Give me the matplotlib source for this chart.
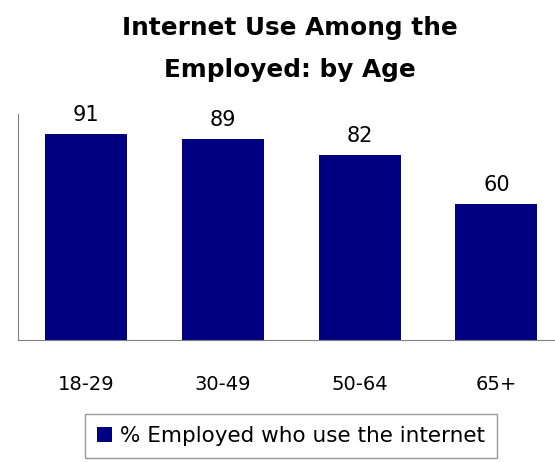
import matplotlib
matplotlib.use("Agg")
import matplotlib.pyplot as plt

categories = ["18-29", "30-49", "50-64", "65+"]
values = [91, 89, 82, 60]
series_name = "% Employed who use the internet"
title = "Internet Use Among the\nEmployed: by Age"

plt.rcParams['font.family'] = ['DejaVu Sans']
fig = plt.figure(figsize=(5.55, 4.62), dpi=100)
ax = fig.add_axes([18/555, 1-340/462, 546.8/555, 226/462])
color = "#000080"
bars = ax.bar(range(len(categories)), values, width=0.6, color=color, label=series_name)
ax.set_xlim(-0.5, 3.5)
ax.set_ylim(0, 100)
for i, v in enumerate(values):
    ax.text(i, v + 4.0, str(v), ha="center", va="bottom", fontsize=15)
ax.set_xticks(range(len(categories)))
ax.set_xticklabels(categories, fontsize=14)
ax.tick_params(axis="x", length=0, pad=25)
ax.set_yticks([])
ax.spines["top"].set_visible(False)
ax.spines["right"].set_visible(False)
ax.spines["left"].set_color("#808080")
ax.spines["bottom"].set_color("#808080")
fig.text(0.523, 1-49/462, title, ha="center", va="center", fontsize=17.8, fontweight="bold", linespacing=1.95)
leg = fig.legend(handles=[bars], labels=[series_name], loc="center", bbox_to_anchor=(291/555, 1-436/462),
                 fontsize=15.5, frameon=True, fancybox=False, edgecolor="#808080", handlelength=0.7, handleheight=0.7,
                 handletextpad=0.4, borderpad=0.55, borderaxespad=0)
leg.get_frame().set_linewidth(1)
fig.savefig("out.png", dpi=100)
